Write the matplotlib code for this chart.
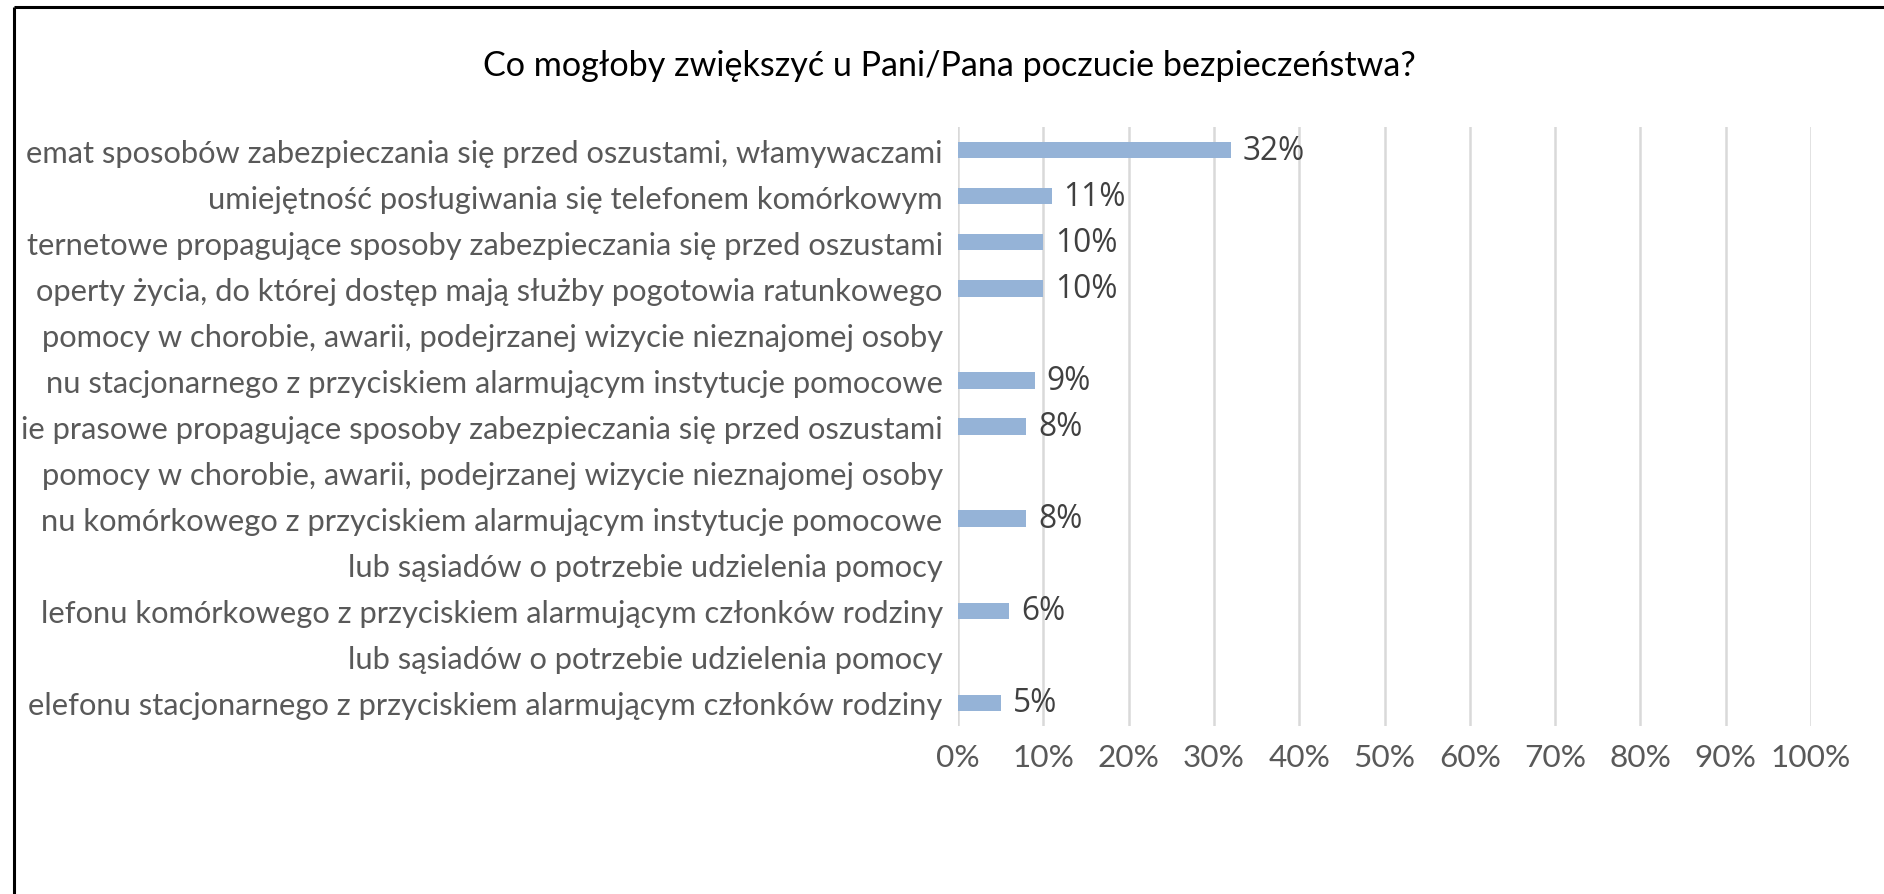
import matplotlib
matplotlib.use('Agg')
import matplotlib.pyplot as plt
import numpy as np
from matplotlib.lines import Line2D

title = "Co mogłoby zwiększyć u Pani/Pana poczucie bezpieczeństwa?"
categories = [
    "emat sposobów zabezpieczania się przed oszustami, włamywaczami",
    "umiejętność posługiwania się telefonem komórkowym",
    "ternetowe propagujące sposoby zabezpieczania się przed oszustami",
    "operty życia, do której dostęp mają służby pogotowia ratunkowego",
    "pomocy w chorobie, awarii, podejrzanej wizycie nieznajomej osoby",
    "nu stacjonarnego z przyciskiem alarmującym instytucje pomocowe",
    "ie prasowe propagujące sposoby zabezpieczania się przed oszustami",
    "pomocy w chorobie, awarii, podejrzanej wizycie nieznajomej osoby",
    "nu komórkowego z przyciskiem alarmującym instytucje pomocowe",
    "lub sąsiadów o potrzebie udzielenia pomocy",
    "lefonu komórkowego z przyciskiem alarmującym członków rodziny",
    "lub sąsiadów o potrzebie udzielenia pomocy",
    "elefonu stacjonarnego z przyciskiem alarmującym członków rodziny",
]
values = [32, 11, 10, 10, None, 9, 8, None, 8, None, 6, None, 5]
xticks = [0, 10, 20, 30, 40, 50, 60, 70, 80, 90, 100]

W, H = 1884, 895
fig = plt.figure(figsize=(W / 100, H / 100), dpi=100)
renderer = fig.canvas.get_renderer()

LABEL_FONT = 'Lato'
VALUE_FONT = 'Open Sans'


def fit(text, family, target_px):
    t = fig.text(0, 0, text, fontsize=20, family=family)
    w = t.get_window_extent(renderer).width
    t.remove()
    return 20 * target_px / w


cat_fs = fit("umiejętność posługiwania się telefonem komórkowym", LABEL_FONT, 736)
tick_fs = fit("100%", LABEL_FONT, 80)
title_fs = fit(title, LABEL_FONT, 935)
lab_fs = fit("32%", VALUE_FONT, 62)

ax_l, ax_r, ax_t, ax_b = 958, 1811, 128, 727
ax = fig.add_axes([ax_l / W, 1 - ax_b / H, (ax_r - ax_l) / W, (ax_b - ax_t) / H])

y = np.arange(len(categories))
for i, v in enumerate(values):
    if v is None:
        continue
    ax.barh(i, v, height=0.36, color='#95b3d7', zorder=3)
    ax.annotate(f"{v}%", (v, i), xytext=(8.5, 0), textcoords='offset points',
                va='center', ha='left', fontsize=lab_fs, family=VALUE_FONT,
                color='#404040', zorder=4)

ax.set_xlim(0, 100)
ax.set_ylim(len(categories) - 0.5, -0.5)
ax.set_xticks(xticks)
ax.set_xticklabels([f"{t}%" for t in xticks], fontsize=tick_fs, family=LABEL_FONT, color='#595959')
ax.set_yticks(y)
ax.set_yticklabels(categories, fontsize=cat_fs, family=LABEL_FONT, color='#595959')
ax.tick_params(axis='both', length=0)
ax.tick_params(axis='y', pad=11)
ax.tick_params(axis='x', pad=12)
ax.grid(axis='x', color='#d9d9d9', linewidth=1.8, zorder=0)
ax.set_axisbelow(True)
for s in ax.spines.values():
    s.set_visible(False)

fig.text(949 / W, 1 - 66 / H, title, ha='center', va='center', fontsize=title_fs,
         family=LABEL_FONT, color='#000000')

fig.add_artist(Line2D([14 / W, 1], [1 - 8 / H, 1 - 8 / H], transform=fig.transFigure,
                      color='black', linewidth=2.2, solid_capstyle='butt'))
fig.add_artist(Line2D([14 / W, 14 / W], [1 - 8 / H, 0], transform=fig.transFigure,
                      color='black', linewidth=2.2, solid_capstyle='butt'))

fig.savefig('out.png', dpi=100, facecolor='white')
